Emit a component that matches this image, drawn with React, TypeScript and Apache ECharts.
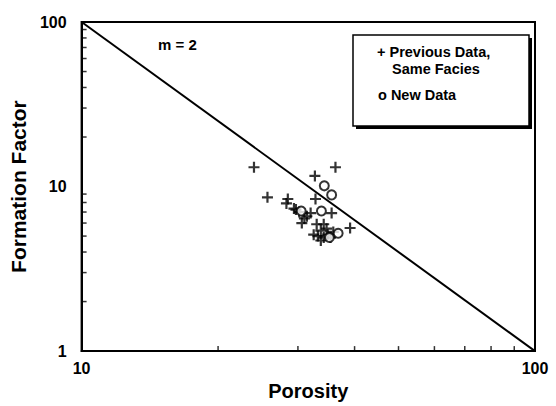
import React, { useEffect, useRef } from "react";
import * as echarts from "echarts";

// Previous data, same facies (+)
const prevPorosity = [24.0, 36.3, 32.7, 25.7, 28.5, 28.3, 32.8, 29.4, 32.0, 35.6, 30.6, 39.1, 31.4, 33.0, 34.2, 33.7, 34.7, 34.2, 35.4, 33.7, 35.9, 29.7, 31.0, 32.5, 34.9, 33.2, 30.2];
const prevFactor = [13.1, 13.1, 11.6, 8.6, 8.4, 7.9, 8.4, 7.35, 6.9, 6.9, 6.0, 5.6, 6.6, 5.9, 5.9, 5.4, 5.55, 4.9, 4.9, 4.7, 5.3, 7.25, 6.4, 5.1, 5.1, 5.0, 7.0];

// New data (o)
const newPorosity = [34.3, 35.6, 30.5, 33.8, 36.8, 35.2];
const newFactor = [10.1, 8.9, 7.1, 7.1, 5.2, 4.9];

// m = 2 line: F = (100 / porosity)^2
const linePorosity = [10, 100];
const lineFactor = [100, 1];

// minor tick positions
const xMinorTicks = [20, 30, 40, 50, 60, 70, 80, 90];
const yMinorTicks = [2, 3, 4, 5, 6, 7, 8, 9, 20, 30, 40, 50, 60, 70, 80, 90];

const FONT = "Liberation Sans, Arial, Helvetica, sans-serif";
const PLUS = "path://M4,0H6V4H10V6H6V10H4V6H0V4H4Z";

export default function App() {
  const ref = useRef<HTMLDivElement>(null);
  useEffect(() => {
    if (!ref.current) return;
    const chart = echarts.init(ref.current, undefined, { renderer: "svg" });
    const zip = (a: number[], b: number[]) => a.map((v, i) => [v, b[i]]);
    chart.setOption({
      animation: false,
      backgroundColor: "#fff",
      grid: {
        left: 74,
        right: 21,
        top: 22,
        bottom: 40,
        show: true,
        borderColor: "#000",
        borderWidth: 2,
      },
      xAxis: {
        type: "log",
        logBase: 10,
        min: 10,
        max: 100,
        name: "Porosity",
        nameLocation: "middle",
        nameGap: 18,
        nameTextStyle: { fontFamily: FONT, fontWeight: "bold", fontSize: 20, color: "#000" },
        axisLine: { lineStyle: { color: "#000", width: 2 } },
        axisTick: { show: false },
        splitLine: { show: false },
        axisLabel: { fontFamily: FONT, fontWeight: "bold", fontSize: 16, color: "#000", margin: 9 },
      },
      yAxis: {
        type: "log",
        logBase: 10,
        min: 1,
        max: 100,
        name: "Formation Factor",
        nameLocation: "middle",
        nameGap: 42,
        nameTextStyle: { fontFamily: FONT, fontWeight: "bold", fontSize: 21, color: "#000" },
        axisLine: { lineStyle: { color: "#000", width: 2 } },
        axisTick: { show: false },
        splitLine: { show: false },
        axisLabel: { fontFamily: FONT, fontWeight: "bold", fontSize: 16, color: "#000", margin: 15 },
      },
      series: [
        {
          type: "line",
          data: zip(linePorosity, lineFactor),
          showSymbol: false,
          symbol: "none",
          lineStyle: { color: "#000", width: 2 },
          silent: true,
        },
        {
          type: "scatter",
          data: xMinorTicks.map((v) => [v, 1]),
          symbol: "rect",
          symbolSize: [1.5, 5],
          symbolOffset: [0, -2.5],
          itemStyle: { color: "#000" },
          clip: false,
          silent: true,
        },
        {
          type: "scatter",
          data: yMinorTicks.map((v) => [10, v]),
          symbol: "rect",
          symbolSize: [5, 1.5],
          symbolOffset: [2.5, 0],
          itemStyle: { color: "#000" },
          clip: false,
          silent: true,
        },
        {
          type: "scatter",
          data: zip(prevPorosity, prevFactor),
          symbol: PLUS,
          symbolSize: 11,
          itemStyle: { color: "#000" },
        },
        {
          type: "scatter",
          data: zip(newPorosity, newFactor),
          symbol: "circle",
          symbolSize: 9,
          itemStyle: { color: "#fff", borderColor: "#000", borderWidth: 2 },
        },
      ],
      graphic: [
        {
          type: "text",
          left: 158,
          top: 37,
          style: { text: "m = 2", fontFamily: FONT, fontWeight: "bold", fontSize: 15, fill: "#000" },
        },
        {
          type: "rect",
          shape: { x: 356, y: 38, width: 176, height: 91 },
          style: { fill: "#000" },
        },
        {
          type: "rect",
          shape: { x: 353, y: 35, width: 176, height: 91 },
          style: { fill: "#fff", stroke: "#000", lineWidth: 1.5 },
        },
        {
          type: "text",
          x: 377,
          y: 52,
          style: { text: "+ Previous Data,", fontFamily: FONT, fontWeight: "bold", fontSize: 14.5, fill: "#000", verticalAlign: "middle" },
        },
        {
          type: "text",
          x: 392,
          y: 69,
          style: { text: "Same Facies", fontFamily: FONT, fontWeight: "bold", fontSize: 14.5, fill: "#000", verticalAlign: "middle" },
        },
        {
          type: "text",
          x: 378,
          y: 95,
          style: { text: "o New Data", fontFamily: FONT, fontWeight: "bold", fontSize: 14.5, fill: "#000", verticalAlign: "middle" },
        },
      ],
    });
    return () => chart.dispose();
  }, []);
  return <div ref={ref} style={{ width: 556, height: 406, position: "absolute", left: 0, top: 0 }} />;
}
